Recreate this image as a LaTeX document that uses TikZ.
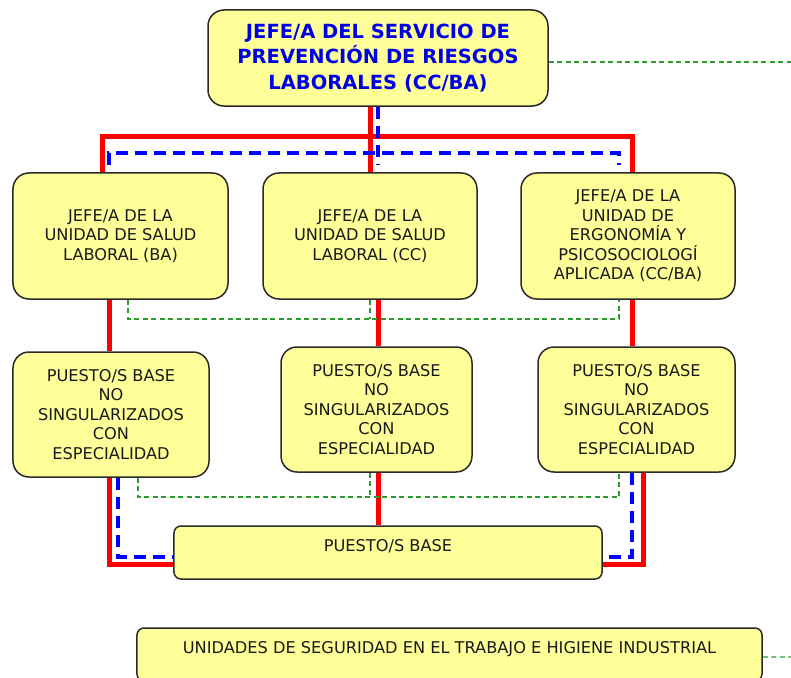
\documentclass[tikz,border=0pt]{standalone}
\usepackage{fontspec}
\setmainfont{DejaVu Sans}
\usetikzlibrary{calc,backgrounds}
\definecolor{boxfill}{HTML}{FFFF99}
\definecolor{boxedge}{HTML}{2A2A2A}
\definecolor{redc}{HTML}{FF0000}
\definecolor{bluec}{HTML}{0000FF}
\definecolor{greenc}{HTML}{2E9A2E}
\definecolor{titleblue}{HTML}{0000E6}
\definecolor{txt}{HTML}{1A1A1A}
\begin{document}
\begin{tikzpicture}[x=1bp,y=-1bp,
  box/.style={draw=boxedge, line width=1.5bp, fill=boxfill, rounded corners=16bp,
    align=center, inner sep=0pt, text=txt,
    font=\fontsize{16.2bp}{19.5bp}\selectfont},
  widebox/.style={box, rounded corners=7bp, text height=25.5bp, text depth=27.5bp},
  titlebox/.style={box, text=titleblue,
    font=\fontsize{19.5bp}{25.5bp}\selectfont\bfseries},
  redl/.style={draw=redc, line width=5bp},
  bluel/.style={draw=bluec, line width=3.6bp, dash pattern=on 12bp off 7bp},
  greenl/.style={draw=greenc, line width=1.2bp, dash pattern=on 5bp off 3.5bp}]
\clip (0,0) rectangle (791,678);

% nodes
\node[titlebox, minimum width=340bp, minimum height=96bp] (T) at (378,58)
  {JEFE/A DEL SERVICIO DE\\PREVENCIÓN DE RIESGOS\\LABORALES (CC/BA)};
\node[box, minimum width=215bp, minimum height=126bp] (B1) at (120.5,236)
  {JEFE/A DE LA\\UNIDAD DE SALUD\\LABORAL (BA)};
\node[box, minimum width=214bp, minimum height=126bp] (B2) at (370,236)
  {JEFE/A DE LA\\UNIDAD DE SALUD\\LABORAL (CC)};
\node[box, minimum width=214bp, minimum height=126bp] (B3) at (628,236)
  {JEFE/A DE LA\\UNIDAD DE\\ERGONOMÍA Y\\PSICOSOCIOLOGÍ\\APLICADA (CC/BA)};
\node[box, minimum width=196bp, minimum height=125bp] (P1) at (111,414.5)
  {PUESTO/S BASE\\NO\\SINGULARIZADOS\\CON\\ESPECIALIDAD};
\node[box, minimum width=191bp, minimum height=125bp] (P2) at (376.5,409.5)
  {PUESTO/S BASE\\NO\\SINGULARIZADOS\\CON\\ESPECIALIDAD};
\node[box, minimum width=197bp, minimum height=125bp] (P3) at (636.5,409.5)
  {PUESTO/S BASE\\NO\\SINGULARIZADOS\\CON\\ESPECIALIDAD};
\node[widebox, minimum width=428bp] (PB) at (388,552.5) {PUESTO/S BASE};
\node[widebox, minimum width=625bp] (U) at (449.5,654.5)
  {UNIDADES DE SEGURIDAD EN EL TRABAJO E HIGIENE INDUSTRIAL};

% lanes
\coordinate (xr1) at (102,0);
\coordinate (xr2) at (370,0);
\coordinate (xr3) at (632,0);
\coordinate (xb1) at (109,0);
\coordinate (xb2) at (378,0);
\coordinate (xb3) at (619,0);
\coordinate (xg1) at (128,0);
\coordinate (xg2) at (370,0);
\coordinate (xg3) at (619,0);
\coordinate (xg4) at (138,0);
\coordinate (xg6) at (619,0);
\coordinate (xr4) at (109,0);
\coordinate (xr5) at (378,0);
\coordinate (xr7) at (643,0);
\coordinate (xb4) at (118,0);
\coordinate (xb5) at (632,0);
\coordinate (yR) at (0,137);
\coordinate (yB) at (0,153);
\coordinate (yBe) at (0,165);
\coordinate (yG1) at (0,319);
\coordinate (yG2) at (0,497);
\coordinate (yRl) at (0,564);
\coordinate (yBl) at (0,557);
\coordinate (gT) at (791,62);
\coordinate (gU) at (791,657);

\begin{scope}[on background layer]
% red solid
\draw[redl] (T.south -| xr2) -- (B2.north -| xr2);
\draw[redl] (B1.north -| xr1) -- (yR -| xr1) -- (yR -| xr3) -- (B3.north -| xr3);
\draw[redl] (B1.south -| xr4) -- (P1.north -| xr4);
\draw[redl] (B2.south -| xr5) -- (P2.north -| xr5);
\draw[redl] (P2.south -| xr5) -- (PB.north -| xr5);
\draw[redl] (B3.south -| xr3) -- (P3.north -| xr3);
\draw[redl] (P1.south -| xr4) -- (yRl -| xr4) -- (yRl -| PB.west);
\draw[redl] (P3.south -| xr7) -- (yRl -| xr7) -- (yRl -| PB.east);
% blue dashed
\draw[bluel] (T.south -| xb2) -- (yBe -| xb2);
\draw[bluel] (yBe -| xb1) -- (yB -| xb1) -- (yB -| xb3) -- (yBe -| xb3);
\draw[bluel] (P1.south -| xb4) -- (yBl -| xb4) -- (yBl -| PB.west);
\draw[bluel] (P3.south -| xb5) -- (yBl -| xb5) -- (yBl -| PB.east);
% green dashed
\draw[greenl] ($(T.east)+(0,4)$) -- (gT);
\draw[greenl] (B1.south -| xg1) -- (yG1 -| xg1) -- (yG1 -| xg3) -- (B3.south -| xg3);
\draw[greenl] (B2.south -| xg2) -- (yG1 -| xg2);
\draw[greenl] (P1.south -| xg4) -- (yG2 -| xg4) -- (yG2 -| xg6) -- (P3.south -| xg6);
\draw[greenl] (P2.south -| xg2) -- (yG2 -| xg2);
\draw[greenl] ($(U.east)+(0,2.5)$) -- (gU);
\end{scope}
\end{tikzpicture}
\end{document}
